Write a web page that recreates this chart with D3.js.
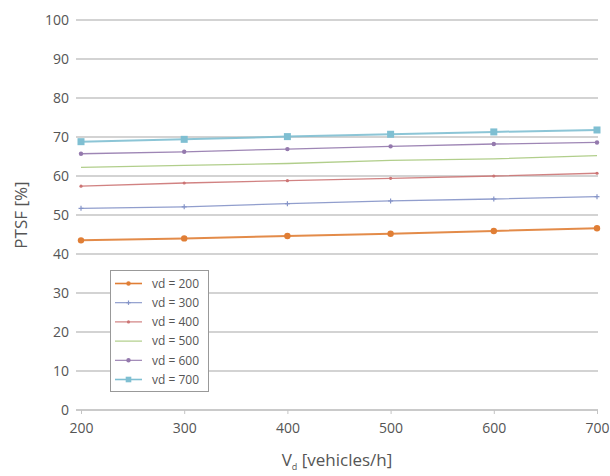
<!DOCTYPE html>
<html><head><meta charset="utf-8">
<script src="https://cdn.jsdelivr.net/npm/d3@7"></script>
<style>
html,body{margin:0;padding:0;background:#fff;}
svg{display:block;font-family:"Open Sans",sans-serif;}
</style></head>
<body><svg id="c" width="610" height="476"></svg>
<script>
const xValues = [200, 300, 400, 500, 600, 700];
const seriesNames = ["vd = 200", "vd = 300", "vd = 400", "vd = 500", "vd = 600", "vd = 700"];
const vd200 = [43.5, 44.0, 44.6, 45.2, 45.9, 46.6];
const vd300 = [51.7, 52.1, 52.9, 53.6, 54.1, 54.7];
const vd400 = [57.4, 58.2, 58.8, 59.4, 60.0, 60.7];
const vd500 = [62.2, 62.7, 63.2, 64.0, 64.4, 65.2];
const vd600 = [65.7, 66.2, 66.9, 67.6, 68.2, 68.6];
const vd700 = [68.8, 69.4, 70.1, 70.7, 71.3, 71.8];
const yTicks = [0, 10, 20, 30, 40, 50, 60, 70, 80, 90, 100];
const xTicks = [200, 300, 400, 500, 600, 700];

const seriesValues = [vd200, vd300, vd400, vd500, vd600, vd700];
const styles = [
  {color:"#e07e35", width:2, marker:"circle", size:3.2},
  {color:"#8594c8", width:1.3, marker:"plus", size:2.5},
  {color:"#cc7474", width:1.3, marker:"dash", size:2},
  {color:"#a9c97e", width:1.3, marker:"none", size:0},
  {color:"#9479ad", width:1.3, marker:"circle", size:2.2},
  {color:"#7fbfd2", width:2, marker:"square", size:3.5}
];

const svg = d3.select("#c");
const x = d3.scaleLinear().domain([200, 700]).range([81, 597]);
const y = d3.scaleLinear().domain([0, 100]).range([410, 20]);

// gridlines
svg.append("g").selectAll("line").data(yTicks).join("line")
  .attr("x1", 76).attr("x2", 598)
  .attr("y1", d => y(d)).attr("y2", d => y(d))
  .attr("stroke", d => d === 0 ? "#b8b8b8" : "#c4c4c4").attr("stroke-width", 1.3);

// y tick labels
svg.append("g").selectAll("text").data(yTicks).join("text")
  .attr("x", 69).attr("y", d => y(d)).attr("dy", "0.35em")
  .attr("text-anchor", "end").attr("font-size", 14).attr("fill", "#555")
  .text(d => d);

// x axis ticks
const xAxis = d3.axisBottom(x).tickValues(xTicks).tickSize(4).tickPadding(9);
const gx = svg.append("g").attr("transform", "translate(0,410)").call(xAxis);
gx.select(".domain").remove();
gx.selectAll(".tick line").attr("stroke", "#c4c4c4");
gx.selectAll(".tick text").attr("font-size", 14).attr("fill", "#555")
  .attr("font-family", "Open Sans, sans-serif");

// axis titles
svg.append("text").attr("transform", "translate(27,215) rotate(-90)")
  .attr("text-anchor", "middle").attr("font-size", 17).attr("fill", "#555")
  .text("PTSF [%]");
const xt = svg.append("text").attr("x", 337).attr("y", 466)
  .attr("text-anchor", "middle").attr("font-size", 17).attr("fill", "#555");
xt.append("tspan").text("V");
xt.append("tspan").attr("font-size", 9).attr("dy", 3.5).text("d");
xt.append("tspan").attr("dy", -3.5).text(" [vehicles/h]");

function drawMarker(g, st, cx, cy) {
  if (st.marker === "circle") {
    g.append("circle").attr("cx", cx).attr("cy", cy).attr("r", st.size).attr("fill", st.color);
  } else if (st.marker === "square") {
    g.append("rect").attr("x", cx - st.size).attr("y", cy - st.size)
      .attr("width", st.size * 2).attr("height", st.size * 2).attr("fill", st.color);
  } else if (st.marker === "plus") {
    g.append("line").attr("x1", cx).attr("x2", cx).attr("y1", cy - st.size).attr("y2", cy + st.size)
      .attr("stroke", st.color).attr("stroke-width", 1.2);
    g.append("line").attr("x1", cx - st.size).attr("x2", cx + st.size).attr("y1", cy).attr("y2", cy)
      .attr("stroke", st.color).attr("stroke-width", 1.2);
  } else if (st.marker === "dash") {
    g.append("circle").attr("cx", cx).attr("cy", cy).attr("r", 1.6).attr("fill", st.color);
  }
}

// series
const line = d3.line().x((d, i) => x(xValues[i])).y(d => y(d));
seriesValues.forEach((vals, si) => {
  const st = styles[si];
  const g = svg.append("g");
  g.append("path").datum(vals).attr("d", line).attr("fill", "none")
    .attr("stroke", st.color).attr("stroke-width", st.width).attr("opacity", 0.9);
  vals.forEach((v, i) => drawMarker(g, st, x(xValues[i]), y(v)));
});

// legend
const lg = svg.append("g");
lg.append("rect").attr("x", 110.5).attr("y", 270.5).attr("width", 98).attr("height", 121)
  .attr("fill", "#fff").attr("stroke", "#999").attr("stroke-width", 1);
seriesNames.forEach((name, i) => {
  const st = styles[i];
  const cy = 283.5 + i * 19.2;
  lg.append("line").attr("x1", 115).attr("x2", 142).attr("y1", cy).attr("y2", cy)
    .attr("stroke", st.color).attr("stroke-width", st.width === 2 ? 1.6 : 1.1);
  const s2 = Object.assign({}, st, {size: st.marker === "square" ? 2.8 : Math.min(st.size, 2.2)});
  drawMarker(lg, s2, 128.5, cy);
  lg.append("text").attr("x", 152).attr("y", cy).attr("dy", "0.35em")
    .attr("font-size", 12).attr("fill", "#555").text(name);
});
</script></body></html>
